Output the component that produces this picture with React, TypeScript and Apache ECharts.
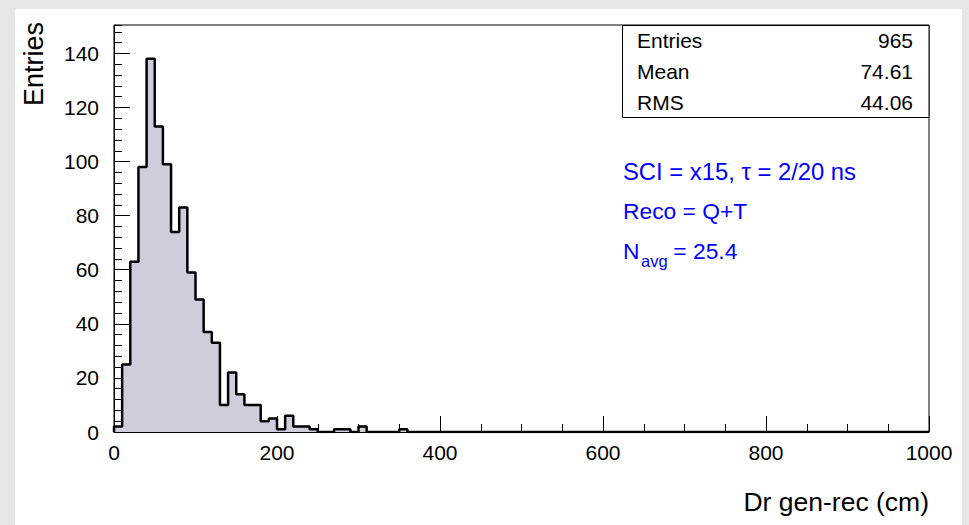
import React, { useEffect, useRef } from "react";
import * as echarts from "echarts";

// Histogram: 100 bins of width 10 cm from 0 to 1000
const binWidth = 10;
const xMin = 0;
const xMax = 1000;
const binCounts = [
  2, 25, 63, 98, 138, 113, 99, 74, 83, 59,
  49, 37, 33, 10, 22, 14, 10, 10, 4, 5,
  1, 6, 2, 2, 1, 0, 0, 1, 1, 0,
  2, 0, 0, 0, 0, 1, 0, 0, 0, 0,
  0, 0, 0, 0, 0, 0, 0, 0, 0, 0,
  0, 0, 0, 0, 0, 0, 0, 0, 0, 0,
  0, 0, 0, 0, 0, 0, 0, 0, 0, 0,
  0, 0, 0, 0, 0, 0, 0, 0, 0, 0,
  0, 0, 0, 0, 0, 0, 0, 0, 0, 0,
  0, 0, 0, 0, 0, 0, 0, 0, 0, 0,
];
const yMax = 150.5;
const xTickLabels = [0, 200, 400, 600, 800, 1000];
const yTickLabels = [0, 20, 40, 60, 80, 100, 120, 140];

const statsLabels = ["Entries", "Mean", "RMS"];
const statsValues = ["965", "74.61", "44.06"];

const xTitle = "Dr gen-rec (cm)";
const yTitle = "Entries";
const infoLines = ["SCI = x15, \u03c4 = 2/20 ns", "Reco = Q+T"];
const navgMain = "N";
const navgSub = "avg";
const navgRest = " = 25.4";

const FONT = "'Liberation Sans', Arial, Helvetica, sans-serif";
const BLUE = "#0000ff";

export default function App() {
  const ref = useRef<HTMLDivElement>(null);

  useEffect(() => {
    if (!ref.current) return;
    const chart = echarts.init(ref.current, undefined, { renderer: "svg" });

    const points: number[][] = [[xMin, 0]];
    binCounts.forEach((c, i) => {
      points.push([xMin + i * binWidth, c]);
      points.push([xMin + (i + 1) * binWidth, c]);
    });
    points.push([xMax, 0]);

    const statsTop = 25.5;
    const rowH = 30.7;

    const graphics: any[] = [
      {
        type: "rect",
        z: -100,
        silent: true,
        shape: { x: 15, y: 9, width: 947, height: 520 },
        style: { fill: "#ffffff" },
      },
      {
        type: "text",
        x: 34,
        y: 22,
        rotation: Math.PI / 2,
        style: {
          text: yTitle,
          font: `27px ${FONT}`,
          fill: "#000",
          textAlign: "right",
          textVerticalAlign: "middle",
        },
      },
      {
        type: "text",
        x: 929,
        y: 502,
        style: {
          text: xTitle,
          font: `26.5px ${FONT}`,
          fill: "#000",
          textAlign: "right",
          textVerticalAlign: "middle",
        },
      },
      {
        type: "rect",
        z: 50,
        shape: { x: 622.5, y: statsTop, width: 306.5, height: 92 },
        style: { fill: "#ffffff", stroke: "#000", lineWidth: 1 },
      },
    ];
    statsLabels.forEach((lab, i) => {
      graphics.push({
        type: "text",
        z: 51,
        x: 637,
        y: statsTop + rowH * (i + 0.5),
        style: {
          text: lab,
          font: `21px ${FONT}`,
          fill: "#000",
          textAlign: "left",
          textVerticalAlign: "middle",
        },
      });
      graphics.push({
        type: "text",
        z: 51,
        x: 913,
        y: statsTop + rowH * (i + 0.5),
        style: {
          text: statsValues[i],
          font: `21px ${FONT}`,
          fill: "#000",
          textAlign: "right",
          textVerticalAlign: "middle",
        },
      });
    });
    const infoY = [171, 211];
    const infoSize = [23.8, 22.8];
    infoLines.forEach((t, i) => {
      graphics.push({
        type: "text",
        x: 623,
        y: infoY[i],
        style: {
          text: t,
          font: `${infoSize[i]}px ${FONT}`,
          fill: BLUE,
          textAlign: "left",
          textVerticalAlign: "middle",
        },
      });
    });
    graphics.push({
      type: "text",
      x: 623,
      y: 251,
      style: { text: navgMain, font: `22.8px ${FONT}`, fill: BLUE, textAlign: "left", textVerticalAlign: "middle" },
    });
    graphics.push({
      type: "text",
      x: 641,
      y: 261,
      style: { text: navgSub, font: `16.5px ${FONT}`, fill: BLUE, textAlign: "left", textVerticalAlign: "middle" },
    });
    graphics.push({
      type: "text",
      x: 667,
      y: 251,
      style: { text: navgRest, font: `22.8px ${FONT}`, fill: BLUE, textAlign: "left", textVerticalAlign: "middle" },
    });

    chart.setOption({
      animation: false,
      backgroundColor: "#e6e6e6",
      grid: {
        left: 114,
        right: 40,
        top: 25,
        bottom: 93,
        show: true,
        backgroundColor: "transparent",
        borderColor: "#000",
        borderWidth: 1,
      },
      graphic: graphics,
      xAxis: {
        type: "value",
        min: xMin,
        max: xMax,
        interval: 200,
        axisLine: { show: true, lineStyle: { color: "#000", width: 1 } },
        axisTick: { show: true, inside: true, length: 16, lineStyle: { color: "#000" } },
        minorTick: { show: true, splitNumber: 4, length: 8, lineStyle: { color: "#000" } },
        splitLine: { show: false },
        axisLabel: {
          color: "#000",
          fontSize: 21,
          fontFamily: FONT,
          margin: 10,
          formatter: (v: number) => (xTickLabels.includes(v) ? String(v) : ""),
        },
      },
      yAxis: [
        {
          type: "value",
          min: 0,
          max: yMax,
          interval: 20,
          axisLine: { show: true, lineStyle: { color: "#000", width: 1 } },
          axisTick: { show: true, inside: true, length: 16, lineStyle: { color: "#000" } },
          splitLine: { show: false },
          axisLabel: {
            color: "#000",
            fontSize: 21,
            fontFamily: FONT,
            margin: 15,
            showMaxLabel: false,
            formatter: (v: number) => (yTickLabels.includes(v) ? String(v) : ""),
          },
        },
        {
          type: "value",
          position: "left",
          offset: 0,
          min: 0,
          max: yMax,
          interval: 4,
          axisLine: { show: false },
          axisTick: { show: true, inside: true, length: 8, lineStyle: { color: "#000" } },
          splitLine: { show: false },
          axisLabel: { show: false },
        },
      ],
      series: [
        {
          type: "line",
          yAxisIndex: 0,
          data: points,
          symbol: "none",
          showSymbol: false,
          lineStyle: { color: "#000", width: 2.5 },
          areaStyle: { color: "#cdcddb", opacity: 1, origin: "start" },
          z: 3,
        },
      ],
    });

    return () => chart.dispose();
  }, []);

  return (
    <div
      ref={ref}
      style={{ position: "fixed", left: 0, top: 0, width: 969, height: 525 }}
    />
  );
}
